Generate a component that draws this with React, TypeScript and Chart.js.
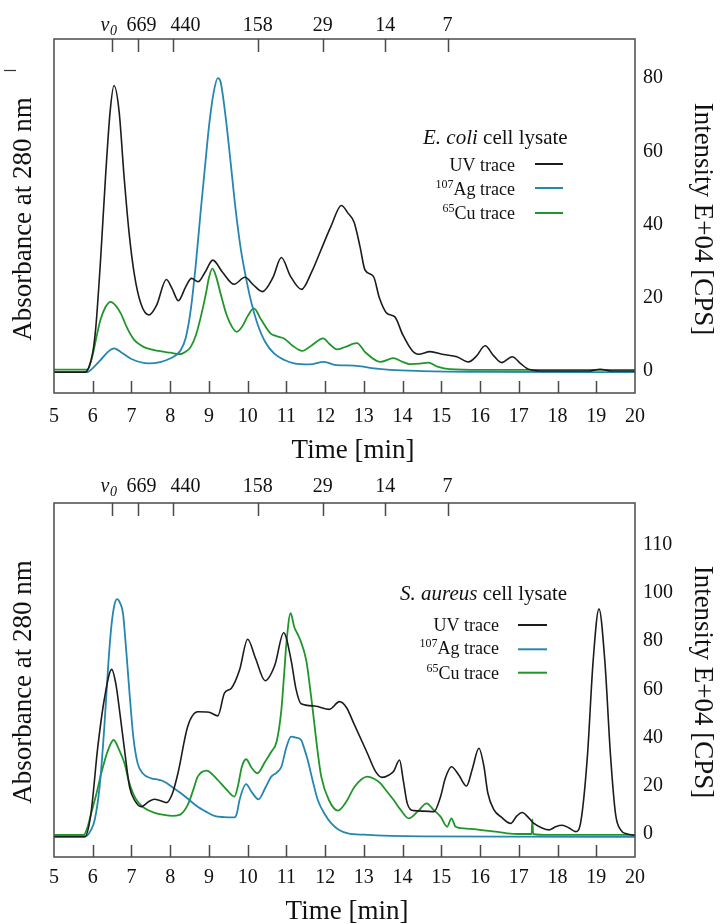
import React, { useEffect, useRef } from "react";
import { Chart, registerables } from "chart.js";

Chart.register(...registerables);

const SERIF = "'Liberation Serif', 'Times New Roman', Times, serif";
const TEXT = "#111111";
const FRAME = "#4a4a4a";
const UV_COLOR = "#1c1c1c";
const AG_COLOR = "#2586b0";
const CU_COLOR = "#20962a";

// Retention time axis (min)
const TIME_MIN = 5;
const TIME_MAX = 20;
const timeTicks = [5, 6, 7, 8, 9, 10, 11, 12, 13, 14, 15, 16, 17, 18, 19, 20];

// Size-exclusion calibration standards along the top edge (kDa); v0 = void volume
const standardTimes = [6.51, 7.18, 8.06, 10.26, 11.94, 13.55, 15.16];
const standardLabels = ["v0", "669", "440", "158", "29", "14", "7"];

// Legend entries (isotope superscript + trace name)
const traceIsotopes = ["", "107", "65"];
const traceNames = ["UV trace", "Ag trace", "Cu trace"];

// ---------- E. coli cell lysate ----------
const ecoliUvTime = [5.0, 5.8, 5.9, 6.0, 6.08, 6.2, 6.33, 6.45, 6.55, 6.68, 6.81, 6.94, 7.07, 7.24, 7.45, 7.65, 7.9, 8.05, 8.21, 8.4, 8.55, 8.72, 8.9, 9.1, 9.35, 9.65, 9.93, 10.15, 10.38, 10.65, 10.87, 11.1, 11.39, 11.65, 11.89, 12.15, 12.42, 12.6, 12.75, 12.9, 13.03, 13.25, 13.4, 13.59, 13.8, 14.0, 14.24, 14.41, 14.71, 15.05, 15.4, 15.7, 15.9, 16.13, 16.35, 16.56, 16.83, 17.05, 17.25, 17.7, 18.8, 19.1, 19.4, 20.0];
const ecoliUv = [-0.3, -0.3, 1, 5, 12, 30, 53, 71, 78, 71, 53, 37.6, 26.7, 18.5, 15.3, 18, 25, 22.5, 19.2, 23, 25.3, 24.4, 27, 30.3, 27, 23.7, 25.6, 23.5, 21.7, 25.5, 31, 26, 22.3, 27, 33, 39.5, 45.2, 43, 40.6, 34, 27.6, 25.8, 20, 15.8, 14.8, 10, 5.7, 4.6, 5.3, 4.5, 3.9, 2.5, 4, 6.9, 4.2, 2.3, 3.9, 2, 0.5, 0, 0, 0.5, 0, 0];

const ecoliAgTime = [5.0, 5.85, 6.0, 6.2, 6.4, 6.55, 6.75, 7.0, 7.45, 8.01, 8.27, 8.4, 8.53, 8.66, 8.79, 8.9, 9.0, 9.12, 9.23, 9.3, 9.43, 9.56, 9.69, 9.82, 9.95, 10.1, 10.25, 10.45, 10.68, 10.95, 11.2, 11.6, 11.97, 12.3, 12.75, 13.2, 13.68, 14.5, 16.0, 20.0];
const ecoliAg = [-0.3, -0.3, 0.8, 3, 5.3, 6.2, 5, 3.3, 2.1, 3.5, 5.7, 9, 16.7, 29, 44, 56, 66.7, 76, 80, 79, 69.5, 57, 44, 33.5, 25.8, 18.5, 13, 8, 4.8, 3, 2.1, 1.8, 2.5, 1.6, 1.5, 0.8, 0.3, 0, -0.2, -0.3];

const ecoliCuTime = [5.0, 5.86, 6.0, 6.1, 6.2, 6.33, 6.46, 6.6, 6.72, 6.9, 7.07, 7.25, 7.41, 7.7, 8.01, 8.23, 8.4, 8.53, 8.67, 8.79, 8.92, 9.0, 9.09, 9.18, 9.3, 9.45, 9.6, 9.72, 9.85, 10.0, 10.16, 10.35, 10.59, 10.75, 10.94, 11.15, 11.41, 11.65, 11.95, 12.12, 12.31, 12.5, 12.82, 13.05, 13.42, 13.76, 14.0, 14.19, 14.45, 14.66, 14.9, 15.22, 16.0, 20.0];
const ecoliCu = [0.4, 0.4, 4.5, 9.5, 14, 17.5, 18.9, 17.8, 15.8, 11.5, 8.5, 7, 6.2, 5.5, 5, 4.6, 5.3, 6.6, 10, 14.8, 21, 25.5, 28, 26, 21.2, 15.5, 12, 10.7, 12, 15, 17.1, 14, 10.3, 9.5, 8.9, 7, 5.5, 7, 8.9, 7.3, 5.9, 6.5, 7.6, 5, 2.5, 3.5, 2.5, 1.9, 2, 2.3, 1.2, 0.5, 0.3, 0.3];

const ecoliIntensityTicks = [0, 20, 40, 60, 80];
const ecoliIntensityLabels = ["0", "20", "40", "60", "80"];

// ---------- S. aureus cell lysate ----------
const aureusUvTime = [5.0, 5.8, 5.95, 6.13, 6.3, 6.49, 6.6, 6.69, 6.82, 6.95, 7.1, 7.25, 7.45, 7.59, 7.75, 7.9, 8.05, 8.2, 8.45, 8.71, 9.0, 9.23, 9.4, 9.58, 9.79, 10.0, 10.2, 10.45, 10.7, 10.93, 11.12, 11.25, 11.38, 11.73, 12.11, 12.37, 12.55, 12.74, 13.09, 13.3, 13.47, 13.65, 13.77, 13.92, 14.02, 14.12, 14.29, 14.55, 14.81, 14.98, 15.1, 15.26, 15.45, 15.65, 15.8, 15.97, 16.1, 16.2, 16.36, 16.55, 16.79, 16.95, 17.09, 17.25, 17.39, 17.6, 17.78, 17.95, 18.12, 18.3, 18.47, 18.6, 18.77, 18.92, 19.07, 19.22, 19.37, 19.5, 19.63, 19.8, 20.0];
const aureusUv = [-1.1, -1.1, 8, 36, 56, 68.3, 62, 51.5, 35, 19.6, 13.5, 11.3, 13.5, 14.4, 13.8, 13, 16.5, 25.2, 44.5, 50.7, 50.5, 49, 58.4, 60.5, 68, 80.8, 73, 63.6, 70, 83.5, 72.2, 60, 54, 53.1, 51.7, 54.9, 52.5, 45.9, 33.5, 26, 23.5, 24.5, 26, 30.7, 22, 12.7, 9.7, 9.5, 9.3, 15.5, 23, 27.9, 24.5, 19.9, 27, 35.6, 28, 17, 10, 7, 4.4, 7.5, 8.9, 6.8, 4.4, 2.5, 1.7, 3, 3.6, 2.5, 1, 5, 32, 72, 93.4, 72, 32, 8, 1.7, 0, -0.5];

const aureusAgTime = [5.0, 5.8, 5.95, 6.05, 6.18, 6.3, 6.4, 6.48, 6.56, 6.63, 6.7, 6.78, 6.87, 6.95, 7.05, 7.16, 7.3, 7.51, 7.7, 7.85, 8.05, 8.28, 8.5, 8.71, 8.9, 9.14, 9.4, 9.66, 9.72, 9.79, 9.96, 10.1, 10.28, 10.45, 10.61, 10.75, 10.87, 11.0, 11.12, 11.25, 11.38, 11.47, 11.55, 11.68, 11.81, 12.0, 12.16, 12.35, 12.59, 13.0, 14.5, 20.0];
const aureusAg = [-1.1, -1.1, 1.5, 5.8, 20, 44.5, 70, 86, 95, 97.4, 96, 91.6, 75, 58.4, 40, 29.3, 25, 23.1, 22.5, 21.7, 19.5, 16.9, 14, 11.3, 9.5, 7.5, 7, 6.9, 8.5, 14.1, 20.7, 17.5, 14.4, 19, 23.8, 25.5, 27.9, 36, 40.4, 40, 39, 35, 30.7, 22, 14.1, 8, 4.4, 1.8, 0.3, -0.3, -1, -1.2];

const aureusCuTime = [5.0, 5.77, 5.87, 5.96, 6.1, 6.22, 6.4, 6.54, 6.68, 6.82, 6.93, 7.04, 7.18, 7.34, 7.6, 7.85, 8.05, 8.24, 8.45, 8.6, 8.71, 8.95, 9.1, 9.23, 9.45, 9.66, 9.75, 9.85, 9.96, 10.1, 10.25, 10.45, 10.61, 10.75, 10.87, 10.94, 11.0, 11.11, 11.2, 11.34, 11.51, 11.6, 11.68, 11.8, 11.9, 12.1, 12.33, 12.55, 12.76, 13.09, 13.25, 13.43, 13.6, 13.77, 13.95, 14.16, 14.4, 14.62, 14.8, 14.98, 15.15, 15.26, 15.37, 15.6, 15.84, 16.1, 16.4, 16.7, 17.0, 17.33, 17.35, 17.37, 17.8, 20.0];
const aureusCu = [-0.4, -0.4, 3, 8.6, 17, 25.2, 35, 39, 35, 29.3, 22, 16.9, 13, 10.7, 8.8, 7.9, 7.5, 7.9, 12, 18.5, 23.8, 26.3, 24.5, 22.4, 18.5, 15.5, 20, 27.9, 31, 27.5, 25.2, 30, 34.1, 38.5, 51.5, 66, 79.1, 91.6, 86, 81.2, 72.2, 62, 51.5, 35, 23.8, 14, 9.7, 13.5, 19.6, 23.8, 23, 21, 17.5, 14.1, 10, 6.5, 9.5, 12.7, 10, 7.2, 3, 6.5, 3, 2.3, 2, 1.5, 1, 0.3, 0, 0, 6.1, 0, -0.4, -0.4];

const aureusIntensityTicks = [0, 20, 40, 60, 80, 100, 120];
const aureusIntensityLabels = ["0", "20", "40", "60", "80", "100", "110"];

// Small horizontal nudges so the crowded standard labels do not collide
const standardLabelNudge = [-4, 3, 13, 0, 0, 0, 0];

type PanelLayout = {
  height: number;
  offsetTop: number;
  yMin: number;
  yMax: number;
  topLabelBase: number;
  xTickPadding: number;
  xTitle: { x: number; y: number };
  yTitleCenter: number;
  legendTitle: { x: number; y: number };
  legendTextRight: number;
  legendLineX: [number, number];
  legendBaselines: number[];
  legendLines: number[];
  strayDash: boolean;
};

type PanelProps = {
  organism: string;
  uvTime: number[];
  uv: number[];
  agTime: number[];
  ag: number[];
  cuTime: number[];
  cu: number[];
  yTicks: number[];
  yTickLabels: string[];
  layout: PanelLayout;
};

const toPoints = (t: number[], v: number[]) => t.map((x, i) => ({ x, y: v[i] }));

function Panel(props: PanelProps) {
  const ref = useRef<HTMLCanvasElement | null>(null);
  const { layout } = props;

  useEffect(() => {
    const canvas = ref.current;
    if (!canvas) return;

    const decorations = {
      id: "decorations",
      afterDatasetsDraw(chart: any) {
        const { ctx, chartArea: a, scales } = chart;
        const xs = scales.x;
        ctx.save();

        // frame
        ctx.strokeStyle = FRAME;
        ctx.lineWidth = 1.5;
        ctx.strokeRect(a.left, a.top, a.right - a.left, a.bottom - a.top);

        // inward tick marks: time axis along the bottom, standards along the top
        ctx.beginPath();
        for (const t of timeTicks) {
          if (t <= TIME_MIN || t >= TIME_MAX) continue;
          const px = Math.round(xs.getPixelForValue(t)) + 0.5;
          ctx.moveTo(px, a.bottom);
          ctx.lineTo(px, a.bottom - 12);
        }
        for (const t of standardTimes) {
          const px = Math.round(xs.getPixelForValue(t)) + 0.5;
          ctx.moveTo(px, a.top);
          ctx.lineTo(px, a.top + 13);
        }
        ctx.stroke();

        // standard labels
        ctx.fillStyle = TEXT;
        ctx.textBaseline = "alphabetic";
        standardLabels.forEach((lab, i) => {
          const cx = xs.getPixelForValue(standardTimes[i]) + standardLabelNudge[i];
          if (lab === "v0") {
            ctx.font = `italic 20px ${SERIF}`;
            const wv = ctx.measureText("v").width;
            ctx.font = `italic 14px ${SERIF}`;
            const w0 = ctx.measureText("0").width;
            const left = cx - (wv + w0) / 2;
            ctx.textAlign = "left";
            ctx.font = `italic 20px ${SERIF}`;
            ctx.fillText("v", left, layout.topLabelBase);
            ctx.font = `italic 14px ${SERIF}`;
            ctx.fillText("0", left + wv + 0.5, layout.topLabelBase + 4);
          } else {
            ctx.font = `20px ${SERIF}`;
            ctx.textAlign = "center";
            ctx.fillText(lab, cx, layout.topLabelBase);
          }
        });

        // axis titles
        ctx.font = `27px ${SERIF}`;
        ctx.textAlign = "center";
        ctx.fillText("Time [min]", layout.xTitle.x, layout.xTitle.y);

        ctx.textBaseline = "middle";
        ctx.save();
        ctx.translate(24, layout.yTitleCenter);
        ctx.rotate(-Math.PI / 2);
        ctx.fillText("Absorbance at 280 nm", 0, 0);
        ctx.restore();

        ctx.save();
        ctx.translate(702, layout.yTitleCenter);
        ctx.rotate(Math.PI / 2);
        ctx.fillText("Intensity E+04 [CPS]", 0, 0);
        ctx.restore();

        // legend
        ctx.textBaseline = "alphabetic";
        ctx.textAlign = "left";
        ctx.font = `italic 21px ${SERIF}`;
        const org = props.organism;
        ctx.fillText(org, layout.legendTitle.x, layout.legendTitle.y);
        const wOrg = ctx.measureText(org).width;
        ctx.font = `21px ${SERIF}`;
        ctx.fillText(" cell lysate", layout.legendTitle.x + wOrg, layout.legendTitle.y);

        const colors = [UV_COLOR, AG_COLOR, CU_COLOR];
        traceNames.forEach((name, i) => {
          const base = layout.legendBaselines[i];
          ctx.font = `18px ${SERIF}`;
          ctx.textAlign = "right";
          ctx.fillText(name, layout.legendTextRight, base);
          const wName = ctx.measureText(name).width;
          if (traceIsotopes[i]) {
            ctx.font = `12px ${SERIF}`;
            ctx.fillText(traceIsotopes[i], layout.legendTextRight - wName, base - 7);
          }
          ctx.strokeStyle = colors[i];
          ctx.lineWidth = 2;
          ctx.beginPath();
          ctx.moveTo(layout.legendLineX[0], layout.legendLines[i]);
          ctx.lineTo(layout.legendLineX[1], layout.legendLines[i]);
          ctx.stroke();
        });

        if (layout.strayDash) {
          ctx.strokeStyle = "#333";
          ctx.lineWidth = 1.2;
          ctx.beginPath();
          ctx.moveTo(4, 70.5);
          ctx.lineTo(16, 70.5);
          ctx.stroke();
        }

        ctx.restore();
      },
    };

    const lineStyle = {
      pointRadius: 0,
      fill: false,
      cubicInterpolationMode: "monotone" as const,
    };

    const chart = new Chart(canvas, {
      type: "line",
      data: {
        datasets: [
          { label: "UV trace", data: toPoints(props.uvTime, props.uv), borderColor: UV_COLOR, borderWidth: 1.6, yAxisID: "yAbs", ...lineStyle },
          { label: "107Ag trace", data: toPoints(props.agTime, props.ag), borderColor: AG_COLOR, borderWidth: 1.8, yAxisID: "y", ...lineStyle },
          { label: "65Cu trace", data: toPoints(props.cuTime, props.cu), borderColor: CU_COLOR, borderWidth: 1.8, yAxisID: "y", ...lineStyle },
        ],
      },
      options: {
        animation: false,
        responsive: false,
        maintainAspectRatio: false,
        events: [],
        layout: { padding: { left: 54, top: 39, right: 0, bottom: 0 } },
        plugins: { legend: { display: false }, tooltip: { enabled: false } },
        scales: {
          x: {
            type: "linear",
            position: "bottom",
            min: TIME_MIN,
            max: TIME_MAX,
            grid: { display: false, drawTicks: false },
            border: { display: false },
            afterBuildTicks: (s: any) => {
              s.ticks = timeTicks.map((value) => ({ value }));
            },
            ticks: {
              autoSkip: false,
              maxRotation: 0,
              padding: layout.xTickPadding,
              color: TEXT,
              font: { family: SERIF, size: 20 },
              callback: (v: any) => String(v),
            },
            afterFit: (s: any) => {
              s.height = layout.height - 393;
            },
          },
          y: {
            type: "linear",
            position: "right",
            min: layout.yMin,
            max: layout.yMax,
            grid: { display: false, drawTicks: false },
            border: { display: false },
            afterBuildTicks: (s: any) => {
              s.ticks = props.yTicks.map((value) => ({ value }));
            },
            ticks: {
              autoSkip: false,
              padding: 8,
              color: TEXT,
              font: { family: SERIF, size: 20 },
              callback: (v: any) => props.yTickLabels[props.yTicks.indexOf(Number(v))] ?? "",
            },
            afterFit: (s: any) => {
              s.width = 85;
            },
          },
          yAbs: {
            type: "linear",
            display: false,
            min: layout.yMin,
            max: layout.yMax,
          },
        },
      },
      plugins: [decorations],
    });

    return () => chart.destroy();
  }, []);

  return (
    <canvas
      ref={ref}
      width={720}
      height={layout.height}
      style={{ position: "absolute", left: 0, top: layout.offsetTop, width: 720, height: layout.height }}
    />
  );
}

const ecoliLayout: PanelLayout = {
  height: 464,
  offsetTop: 0,
  yMin: -6.0,
  yMax: 90.7,
  topLabelBase: 31,
  xTickPadding: 12,
  xTitle: { x: 353, y: 458 },
  yTitleCenter: 219,
  legendTitle: { x: 423, y: 144 },
  legendTextRight: 515,
  legendLineX: [535, 563],
  legendBaselines: [171, 194.5, 219],
  legendLines: [164, 188, 213],
  strayDash: true,
};

const aureusLayout: PanelLayout = {
  height: 460,
  offsetTop: 464,
  yMin: -9.54,
  yMax: 137.3,
  topLabelBase: 28,
  xTickPadding: 9,
  xTitle: { x: 347, y: 455 },
  yTitleCenter: 218,
  legendTitle: { x: 400, y: 136 },
  legendTextRight: 499,
  legendLineX: [518, 547],
  legendBaselines: [166.7, 190, 215.3],
  legendLines: [161, 185.3, 208.7],
  strayDash: false,
};

export default function App() {
  return (
    <div style={{ position: "absolute", left: 0, top: 0, width: 720, height: 924, background: "#fff", overflow: "hidden" }}>
      <Panel
        organism="E. coli"
        uvTime={ecoliUvTime}
        uv={ecoliUv}
        agTime={ecoliAgTime}
        ag={ecoliAg}
        cuTime={ecoliCuTime}
        cu={ecoliCu}
        yTicks={ecoliIntensityTicks}
        yTickLabels={ecoliIntensityLabels}
        layout={ecoliLayout}
      />
      <Panel
        organism="S. aureus"
        uvTime={aureusUvTime}
        uv={aureusUv}
        agTime={aureusAgTime}
        ag={aureusAg}
        cuTime={aureusCuTime}
        cu={aureusCu}
        yTicks={aureusIntensityTicks}
        yTickLabels={aureusIntensityLabels}
        layout={aureusLayout}
      />
    </div>
  );
}
